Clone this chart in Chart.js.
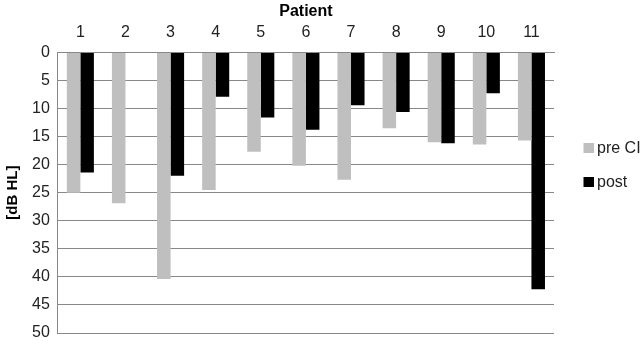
<!DOCTYPE html>
<html>
<head>
<meta charset="utf-8">
<script src="https://cdn.jsdelivr.net/npm/chart.js@4"></script>
<style>
  html, body { margin: 0; padding: 0; background: #fff; }
  #wrap { width: 644px; height: 344px; }
</style>
</head>
<body>
<div id="wrap"><canvas id="chart" width="644" height="344"></canvas></div>
<script>
// patients 1..11, thresholds in dB HL
const patients = ['1', '2', '3', '4', '5', '6', '7', '8', '9', '10', '11'];
const preCI = [25.0, 26.9, 40.4, 24.5, 17.7, 20.2, 22.7, 13.5, 16.0, 16.4, 15.7];
const post = [21.4, null, 22.0, 7.9, 11.6, 13.8, 9.4, 10.6, 16.2, 7.3, 42.2];
const yTicks = [0, 5, 10, 15, 20, 25, 30, 35, 40, 45, 50];

const font = 'Liberation Sans, Arial, sans-serif';
const colors = ['#bfbfbf', '#000000'];

// legend swatch: 10px square sitting at the right end of a wider image,
// so it ends up close to the label text like in the original
function swatch(color) {
    const c = document.createElement('canvas');
    c.width = 26;
    c.height = 10;
    const g = c.getContext('2d');
    g.fillStyle = color;
    g.fillRect(16, 0, 10, 10);
    return c;
}

new Chart(document.getElementById('chart'), {
    type: 'bar',
    data: {
        labels: patients,
        datasets: [
            { label: 'pre CI', data: preCI, backgroundColor: colors[0] },
            { label: 'post', data: post, backgroundColor: colors[1] }
        ]
    },
    options: {
        responsive: false,
        animation: false,
        layout: { padding: { top: 2, right: 0, bottom: 0, left: 4 } },
        datasets: {
            bar: { categoryPercentage: 0.6, barPercentage: 1.0 }
        },
        plugins: {
            legend: {
                position: 'right',
                align: 'start',
                maxWidth: 90,
                // empty title only used to push the items down to the middle
                title: { display: true, text: '', font: { size: 1 }, padding: { top: 119, bottom: 0 } },
                labels: {
                    usePointStyle: true,
                    pointStyleWidth: 17,
                    boxHeight: 10,
                    padding: 18,
                    color: '#222',
                    font: { family: font, size: 16 },
                    generateLabels: (chart) => {
                        const items = Chart.defaults.plugins.legend.labels.generateLabels(chart);
                        items.forEach((item, i) => { item.pointStyle = swatch(colors[i]); });
                        return items;
                    }
                }
            },
            tooltip: { enabled: false }
        },
        scales: {
            x: {
                position: 'top',
                grid: { display: false },
                border: { display: true, color: '#888', width: 1 },
                ticks: { color: '#222', font: { family: font, size: 16 }, padding: 2 },
                title: {
                    display: true,
                    text: 'Patient',
                    color: '#000',
                    font: { family: font, size: 16, weight: 'bold' },
                    padding: { top: 0, bottom: 0 }
                }
            },
            y: {
                reverse: true,
                min: 0,
                max: 50,
                afterBuildTicks: (axis) => { axis.ticks = yTicks.map(v => ({ value: v })); },
                // the tick padding is also added below the last label, keep only half a label there
                afterFit: (axis) => { axis.paddingBottom = 11; },
                grid: { color: '#888', lineWidth: 1, drawTicks: false },
                border: { display: true, color: '#888', width: 1 },
                ticks: { color: '#222', font: { family: font, size: 16 }, padding: 8 },
                title: {
                    display: true,
                    text: '[dB HL]',
                    color: '#000',
                    font: { family: font, size: 15, weight: 'bold' },
                    padding: { top: 0, bottom: 2 }
                }
            }
        }
    }
});
</script>
</body>
</html>
